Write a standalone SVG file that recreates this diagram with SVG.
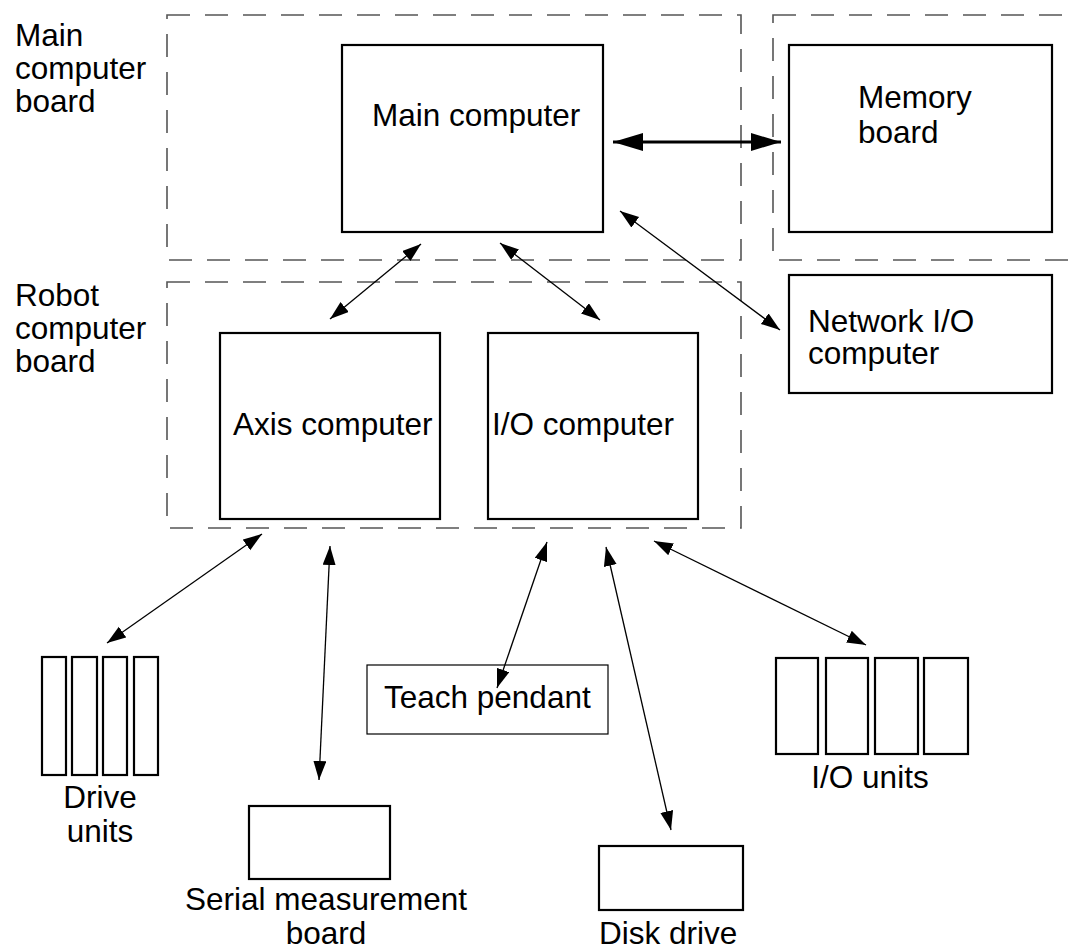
<svg xmlns="http://www.w3.org/2000/svg" width="1077" height="948" viewBox="0 0 1077 948">
<style>
text{font-family:"Liberation Sans",Arial,sans-serif;font-size:31.5px;fill:#000}
.board{fill:none;stroke:#555;stroke-width:1.6;stroke-dasharray:23 15}
.box{fill:#fff;stroke:#000;stroke-width:2.2}
.thin{fill:#fff;stroke:#000;stroke-width:1.2}
.conn{stroke:#000;stroke-width:1.3;fill:none;marker-start:url(#ah);marker-end:url(#ah)}
.conn-thick{stroke:#000;stroke-width:2.8;fill:none;marker-start:url(#ahb);marker-end:url(#ahb)}
</style>
<defs>
<marker id="ah" markerUnits="userSpaceOnUse" markerWidth="20" markerHeight="14" refX="19" refY="6.5" orient="auto-start-reverse" viewBox="0 0 20 14">
<path d="M0,0 L19,6.5 L0,13 z" fill="#000"/>
</marker>
<marker id="ahb" markerUnits="userSpaceOnUse" markerWidth="31" markerHeight="19" refX="30" refY="9" orient="auto-start-reverse" viewBox="0 0 31 19">
<path d="M0,0 L30,9 L0,18 z" fill="#000"/>
</marker>
</defs>
<rect width="1077" height="948" fill="#fff"/>

<g id="main-computer-board">
<rect class="board" x="167" y="15" width="574" height="245"/>
<text x="15" y="46">Main</text>
<text x="15" y="79">computer</text>
<text x="15" y="112">board</text>
</g>
<g id="memory-board-area">
<rect class="board" x="773" y="15" width="310" height="245"/>
</g>
<g id="robot-computer-board">
<rect class="board" x="167" y="282" width="574" height="246"/>
<text x="15" y="306">Robot</text>
<text x="15" y="339">computer</text>
<text x="15" y="372">board</text>
</g>

<g id="main-computer">
<rect class="box" x="342" y="45" width="261" height="187"/>
<text x="372" y="126">Main computer</text>
</g>
<g id="memory-board">
<rect class="box" x="789" y="45" width="263" height="187"/>
<text x="858" y="108">Memory</text>
<text x="858" y="143">board</text>
</g>
<g id="network-io-computer">
<rect class="box" x="789" y="275" width="263" height="118"/>
<text x="808" y="332">Network I/O</text>
<text x="808" y="364">computer</text>
</g>
<g id="axis-computer">
<rect class="box" x="220" y="333" width="220" height="186"/>
<text x="233" y="435">Axis computer</text>
</g>
<g id="io-computer">
<rect class="box" x="488" y="333" width="210" height="186"/>
<text x="492" y="435">I/O computer</text>
</g>
<g id="drive-units">
<rect class="box" x="42" y="657" width="24" height="118"/>
<rect class="box" x="72" y="657" width="25" height="118"/>
<rect class="box" x="103" y="657" width="24" height="118"/>
<rect class="box" x="134" y="657" width="24" height="118"/>
<text x="100" y="808" text-anchor="middle">Drive</text>
<text x="100" y="842" text-anchor="middle">units</text>
</g>
<g id="serial-measurement-board">
<rect class="box" x="249" y="806" width="141" height="73"/>
<text x="326" y="910" text-anchor="middle">Serial measurement</text>
<text x="326" y="944" text-anchor="middle">board</text>
</g>
<g id="teach-pendant">
<rect class="thin" x="367" y="665" width="241" height="69"/>
<text x="384" y="708">Teach pendant</text>
</g>
<g id="disk-drive">
<rect class="box" x="599" y="846" width="144" height="64"/>
<text x="599" y="944">Disk drive</text>
</g>
<g id="io-units">
<rect class="box" x="776" y="658" width="42" height="96"/>
<rect class="box" x="826" y="658" width="42" height="96"/>
<rect class="box" x="875" y="658" width="43" height="96"/>
<rect class="box" x="924" y="658" width="44" height="96"/>
<text x="870" y="788" text-anchor="middle">I/O units</text>
</g>

<g id="connectors">
<line class="conn-thick" x1="613" y1="142" x2="781" y2="142"/>
<line class="conn" x1="620" y1="211" x2="780" y2="330"/>
<line class="conn" x1="421" y1="244" x2="330" y2="319"/>
<line class="conn" x1="500" y1="243" x2="600" y2="320"/>
<line class="conn" x1="262" y1="534" x2="107" y2="643"/>
<line class="conn" x1="330" y1="546" x2="319" y2="780"/>
<line class="conn" x1="547" y1="542" x2="497" y2="688"/>
<line class="conn" x1="606" y1="547" x2="671" y2="830"/>
<line class="conn" x1="654" y1="541" x2="866" y2="645"/>
</g>
</svg>
